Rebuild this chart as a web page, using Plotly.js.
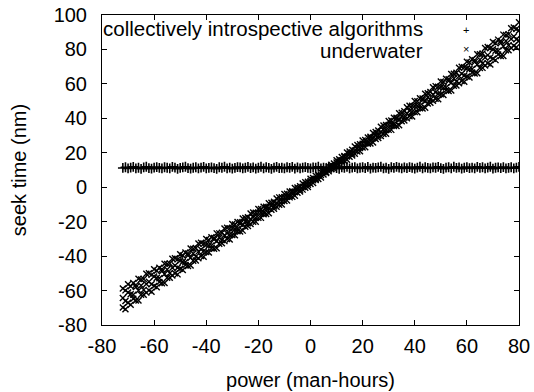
<!DOCTYPE html>
<html>
<head>
<meta charset="utf-8">
<script src="https://cdn.plot.ly/plotly-3.0.1.min.js"></script>
<style>html,body{margin:0;padding:0;background:#fff;}#chart{width:534px;height:392px;}</style>
</head>
<body>
<div id="chart"></div>
<script>
// Series names
const seriesNames = ["collectively introspective algorithms", "underwater"];

// Series 1: "collectively introspective algorithms" (+ markers)
const powerA = [-72,-71,-70,-69,-68,-67,-66,-65,-64,-63,-62,-61,-60,-59,-58,-57,-56,-55,-54,-53,-52,-51,-50,-49,-48,-47,-46,-45,-44,-43,-42,-41,-40,-39,-38,-37,-36,-35,-34,-33,-32,-31,-30,-29,-28,-27,-26,-25,-24,-23,-22,-21,-20,-19,-18,-17,-16,-15,-14,-13,-12,-11,-10,-9,-8,-7,-6,-5,-4,-3,-2,-1,0,1,2,3,4,5,6,7,8,9,10,11,12,13,14,15,16,17,18,19,20,21,22,23,24,25,26,27,28,29,30,31,32,33,34,35,36,37,38,39,40,41,42,43,44,45,46,47,48,49,50,51,52,53,54,55,56,57,58,59,60,61,62,63,64,65,66,67,68,69,70,71,72,73,74,75,76,77,78,79,80];
const seekA = [
 11.2,11.6,10.9,11.4,11.8,11.0,11.3,10.7,11.5,11.9,
 11.1,10.8,11.4,11.7,11.2,10.9,11.6,11.3,11.0,11.8,
 11.4,10.7,11.2,11.5,11.9,11.1,10.8,11.3,11.6,11.0,
 11.4,11.8,10.9,11.2,11.5,11.1,10.7,11.6,11.3,11.9,
 11.0,11.4,10.8,11.2,11.7,11.5,10.9,11.3,11.8,11.1,
 11.5,10.8,11.3,11.9,11.0,11.6,11.2,10.7,11.4,11.8,
 11.1,11.3,10.9,11.6,11.2,11.8,10.8,11.5,11.0,11.4,
 11.7,11.2,10.9,11.5,11.3,11.9,11.0,11.4,10.8,11.6,
 11.2,11.8,11.1,10.7,11.5,11.3,11.9,11.0,11.4,11.7,
 10.9,11.3,11.6,11.1,11.8,10.8,11.4,11.2,11.5,11.9,
 11.0,11.3,10.7,11.6,11.2,11.8,11.4,10.9,11.5,11.1,
 11.7,11.3,10.8,11.4,11.9,11.0,11.6,11.2,10.9,11.5,
 11.3,11.8,11.1,10.7,11.4,11.6,11.0,11.9,11.2,11.5,
 10.8,11.3,11.7,11.1,11.4,10.9,11.8,11.2,11.6,11.0,
 11.4,11.9,10.8,11.3,11.5,11.1,11.7,10.9,11.2,11.6,
 11.0,11.4,11.8];

// Series 2: "underwater" (x markers) - three readings per power value
const powerB = [-72,-71,-70,-69,-68,-67,-66,-65,-64,-63,-62,-61,-60,-59,-58,-57,-56,-55,-54,-53,-52,-51,-50,-49,-48,-47,-46,-45,-44,-43,-42,-41,-40,-39,-38,-37,-36,-35,-34,-33,-32,-31,-30,-29,-28,-27,-26,-25,-24,-23,-22,-21,-20,-19,-18,-17,-16,-15,-14,-13,-12,-11,-10,-9,-8,-7,-6,-5,-4,-3,-2,-1,0,1,2,3,4,5,6,7,8,9,10,11,12,13,14,15,16,17,18,19,20,21,22,23,24,25,26,27,28,29,30,31,32,33,34,35,36,37,38,39,40,41,42,43,44,45,46,47,48,49,50,51,52,53,54,55,56,57,58,59,60,61,62,63,64,65,66,67,68,69,70,71,72,73,74,75,76,77,78,79,80];
const seekBUpper = [
 -58.8,-59.9,-56.3,-57.5,-55.6,-56.7,-53.2,-53.6,-53.3,-50.2,
 -50.0,-50.9,-47.6,-48.5,-46.7,-47.6,-44.4,-44.6,-44.3,-41.5,
 -41.2,-41.9,-38.9,-39.6,-37.9,-38.5,-35.6,-35.7,-35.3,-32.7,
 -32.3,-32.9,-30.1,-30.6,-29.0,-29.5,-26.8,-26.8,-26.4,-24.0,
 -23.5,-23.9,-21.4,-21.7,-20.2,-20.4,-18.1,-17.9,-17.4,-15.3,
 -14.7,-14.8,-12.6,-12.7,-11.4,-11.4,-9.3,-9.0,-8.4,-6.5,
 -5.9,-5.8,-3.9,-3.8,-2.5,-2.3,-0.5,-0.1,0.6,2.2,
 2.9,3.2,4.9,5.3,6.6,7.1,8.8,9.5,10.5,12.2,
 13.1,13.8,15.6,16.2,17.6,18.1,20.1,20.8,21.7,23.6,
 24.5,24.9,27.1,27.4,28.9,29.3,31.5,32.1,32.9,35.1,
 35.9,36.1,38.5,38.7,40.3,40.4,42.9,43.3,44.1,46.5,
 47.3,47.3,50.0,49.9,51.6,51.5,54.3,54.6,55.3,58.0,
 58.7,58.4,61.4,61.1,63.0,62.7,65.7,65.9,66.5,69.4,
 70.0,69.6,72.9,72.4,74.3,73.8,77.2,77.2,77.7,80.9,
 81.4,80.8,84.3,83.6,85.7,84.9,88.6,88.4,88.9,92.3,
 92.8,91.9,95.8];
const seekBMiddle = [
 -64.3,-66.1,-61.1,-62.1,-62.5,-58.0,-60.0,-57.1,-59.6,-56.2,
 -54.9,-56.4,-51.8,-52.7,-52.9,-48.8,-50.4,-47.8,-50.0,-46.8,
 -45.5,-46.8,-42.6,-43.3,-43.4,-39.6,-40.9,-38.5,-40.3,-37.4,
 -36.2,-37.1,-33.4,-33.8,-33.8,-30.4,-31.4,-29.2,-30.6,-27.9,
 -26.8,-27.5,-24.1,-24.4,-24.2,-21.2,-21.9,-19.9,-20.9,-18.5,
 -17.4,-17.8,-14.9,-14.9,-14.6,-12.0,-12.4,-10.6,-11.2,-9.1,
 -8.1,-8.2,-5.7,-5.5,-5.0,-2.8,-2.9,-1.3,-1.5,0.3,
 1.3,1.5,3.6,4.1,4.8,6.8,7.1,8.7,8.9,10.6,
 11.8,12.2,14.3,14.8,15.5,17.7,17.8,19.6,19.4,21.4,
 22.6,22.7,25.3,25.6,26.1,28.7,28.5,30.5,29.9,32.2,
 33.4,33.2,36.2,36.3,36.7,39.7,39.2,41.4,40.4,43.0,
 44.2,43.8,47.2,47.1,47.3,50.7,49.9,52.2,50.9,53.8,
 55.1,54.3,58.2,57.8,57.9,61.7,60.6,63.1,61.4,64.5,
 65.9,64.9,69.1,68.6,68.6,72.7,71.2,74.0,71.9,75.3,
 76.7,75.4,80.1,79.3,79.2,83.7,81.9,84.9,82.4,86.1,
 87.5,85.9,91.0];
const seekBLower = [
 -69.8,-70.8,-67.1,-68.2,-64.8,-65.8,-65.8,-62.5,-62.5,-61.2,
 -59.9,-60.7,-57.3,-58.1,-55.0,-55.8,-55.6,-52.6,-52.5,-51.2,
 -49.9,-50.6,-47.4,-48.0,-45.2,-45.7,-45.5,-42.7,-42.5,-41.2,
 -40.0,-40.4,-37.6,-37.9,-35.4,-35.7,-35.4,-32.8,-32.5,-31.3,
 -30.1,-30.3,-27.7,-27.9,-25.5,-25.7,-25.2,-22.9,-22.5,-21.3,
 -20.1,-20.1,-17.8,-17.8,-15.7,-15.6,-15.1,-13.1,-12.5,-11.3,
 -10.2,-10.0,-8.0,-7.7,-5.9,-5.6,-4.9,-3.2,-2.5,-1.4,
 -0.3,0.1,1.9,2.5,4.2,4.8,5.7,7.4,8.2,9.3,
 10.4,10.9,12.6,13.1,14.8,15.2,15.9,17.7,18.4,19.5,
 20.7,20.9,23.0,23.2,25.2,25.4,26.0,28.0,28.6,29.8,
 30.9,31.0,33.3,33.3,35.5,35.5,36.0,38.3,38.8,40.0,
 41.2,41.1,43.6,43.5,45.9,45.7,46.1,48.6,49.0,50.2,
 51.4,51.1,54.0,53.6,56.3,55.9,56.1,58.9,59.1,60.4,
 61.7,61.2,64.3,63.7,66.6,66.0,66.2,69.2,69.3,70.7,
 72.0,71.2,74.6,73.8,77.0,76.2,76.2,79.5,79.5,80.9,
 82.2,81.3,85.0];

// Axis tick values
const xTicks = [-80,-60,-40,-20,0,20,40,60,80];
const yTicks = [-80,-60,-40,-20,0,20,40,60,80,100];

const FONT = "Liberation Sans, Arial, Helvetica, sans-serif";

const traceA = {
  x: powerA, y: seekA, type: "scatter", mode: "markers", name: seriesNames[0],
  marker: {symbol: "cross-thin-open", size: 7, color: "#000", line: {width: 1.6, color: "#000"}},
  hoverinfo: "skip", showlegend: false
};
const traceB = {
  x: powerB.concat(powerB, powerB),
  y: seekBUpper.concat(seekBMiddle, seekBLower),
  type: "scatter", mode: "markers", name: seriesNames[1],
  marker: {symbol: "x-thin-open", size: 6, color: "#000", line: {width: 1.4, color: "#000"}},
  hoverinfo: "skip", showlegend: false
};

const axisCommon = {
  showgrid: false, zeroline: false, showline: true, linecolor: "#000", linewidth: 1,
  mirror: "ticks", ticks: "inside", ticklen: 5, tickwidth: 1, tickcolor: "#000",
  tickfont: {family: FONT, size: 20, color: "#000"}
};

const layout = {
  width: 534, height: 392,
  margin: {l: 102, r: 15, t: 15, b: 67, pad: 0},
  paper_bgcolor: "#fff", plot_bgcolor: "#fff",
  showlegend: false,
  xaxis: Object.assign({}, axisCommon, {
    range: [-80, 80], tickvals: xTicks, ticktext: xTicks.map(String),
    ticklabelstandoff: 3,
    title: {text: "power (man-hours)", font: {family: FONT, size: 20, color: "#000"}, standoff: 16}
  }),
  yaxis: Object.assign({}, axisCommon, {
    range: [-80, 100], tickvals: yTicks, ticktext: yTicks.map(String),
    ticklabelstandoff: 10,
    title: {text: "seek time (nm)", font: {family: FONT, size: 20, color: "#000"}, standoff: 21}
  }),
  annotations: [
    {xref: "paper", yref: "paper", x: 0.7746, y: 0.955, xanchor: "right", yanchor: "middle",
     text: seriesNames[0], showarrow: false, font: {family: FONT, size: 20.5, color: "#000"}},
    {xref: "paper", yref: "paper", x: 0.7746, y: 0.887, xanchor: "right", yanchor: "middle",
     text: seriesNames[1], showarrow: false, font: {family: FONT, size: 20.5, color: "#000"}},
    {xref: "paper", yref: "paper", x: 0.874, y: 0.9516, xanchor: "center", yanchor: "middle",
     text: "+", showarrow: false, font: {family: FONT, size: 11, color: "#000"}},
    {xref: "paper", yref: "paper", x: 0.874, y: 0.890, xanchor: "center", yanchor: "middle",
     text: "×", showarrow: false, font: {family: FONT, size: 11, color: "#000"}}
  ]
};

Plotly.newPlot("chart", [traceA, traceB], layout, {staticPlot: true, displayModeBar: false});
</script>
</body>
</html>
